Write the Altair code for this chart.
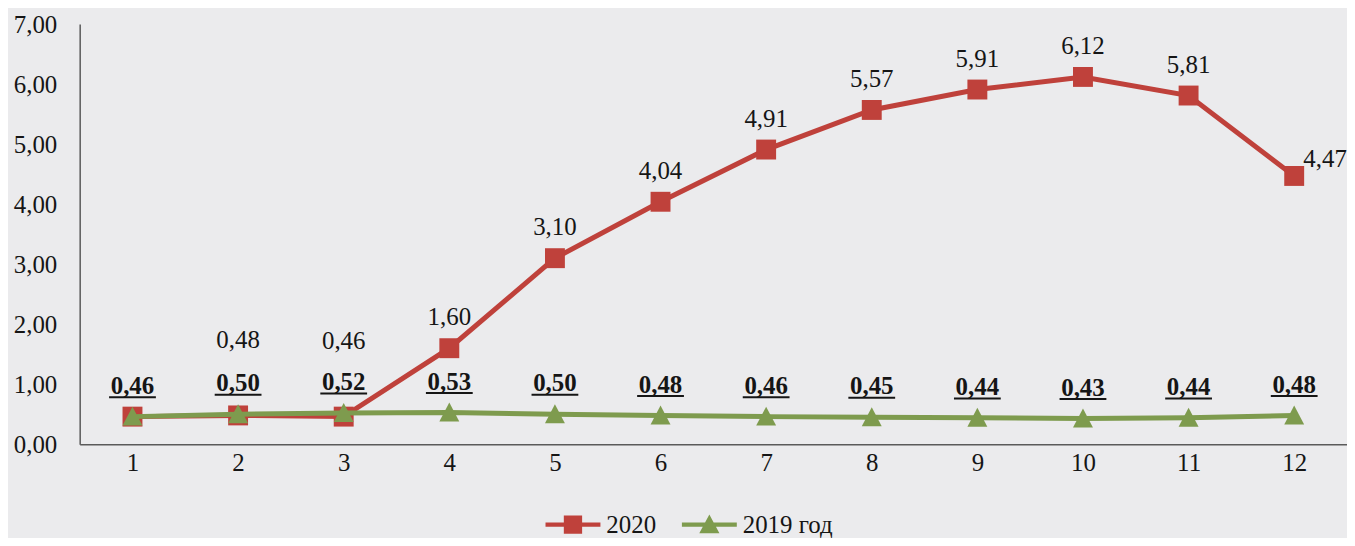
import altair as alt
import pandas as pd

months = [1, 2, 3, 4, 5, 6, 7, 8, 9, 10, 11, 12]
values_2020 = [0.46, 0.48, 0.46, 1.60, 3.10, 4.04, 4.91, 5.57, 5.91, 6.12, 5.81, 4.47]
values_2019 = [0.46, 0.50, 0.52, 0.53, 0.50, 0.48, 0.46, 0.45, 0.44, 0.43, 0.44, 0.48]
series_names = ["2020", "2019 год"]
y_ticks = [0, 1, 2, 3, 4, 5, 6, 7]

RED = "#bf413b"
GREEN = "#7e9b4e"
FONT = "Liberation Serif"
TXT = "#151515"
BG = "#ebebed"


def fmt(v):
    return f"{v:.2f}".replace(".", ",")


rows = []
for m, a, b in zip(months, values_2020, values_2019):
    rows.append({"month": m, "series": series_names[0], "value": a, "label": fmt(a)})
    rows.append({"month": m, "series": series_names[1], "value": b, "label": fmt(b)})
df = pd.DataFrame(rows)

x = alt.X(
    "month:O",
    scale=alt.Scale(type="point", padding=0.5),
    axis=alt.Axis(
        title=None, labelAngle=0, ticks=False, tickSize=0, grid=False,
        labelFont=FONT, labelFontSize=25, labelColor=TXT, labelPadding=6,
        domainColor="#5a5a5a", domainWidth=1.5,
    ),
)
y = alt.Y(
    "value:Q",
    scale=alt.Scale(domain=[0, 7], nice=False, zero=True),
    axis=alt.Axis(
        title=None, values=y_ticks, ticks=False, tickSize=0, grid=False,
        labelFont=FONT, labelFontSize=25, labelColor=TXT, labelPadding=23,
        labelExpr="replace(format(datum.value, '.2f'), '.', ',')",
        domainColor="#5a5a5a", domainWidth=1.5,
    ),
)

base = alt.Chart(df).encode(x=x, y=y)
s20 = base.transform_filter(alt.datum.series == series_names[0])
s19 = base.transform_filter(alt.datum.series == series_names[1])

red_line = s20.mark_line(color=RED, strokeWidth=5)
red_pts = s20.mark_point(shape="square", filled=True, size=400, color=RED, opacity=1)
green_line = s19.mark_line(color=GREEN, strokeWidth=5)
green_pts = s19.mark_point(shape="M0,-1L1,0.9H-1Z", filled=True, size=400, color=GREEN, opacity=1)

legend_paths = [
    "M-3,-0.22H3V0.22H-3Z M-1,-1H1V1H-1Z",
    "M-3,-0.22H3V0.22H-3Z M0,-1.1L1.1,0.95H-1.1Z",
]
leg = dict(
    orient="none", legendX=483, legendY=490, direction="horizontal", title=None,
    labelFont=FONT, labelFontSize=25, labelColor=TXT, symbolSize=338,
    labelOffset=21, columnPadding=25, padding=0, symbolOpacity=1,
    symbolStrokeWidth=0, labelBaseline="middle",
)
legend_layer = base.mark_point(filled=True, opacity=0).encode(
    color=alt.Color("series:N", scale=alt.Scale(domain=series_names, range=[RED, GREEN]),
                    legend=alt.Legend(**leg), sort=series_names),
    shape=alt.Shape("series:N", scale=alt.Scale(domain=series_names, range=legend_paths),
                    legend=alt.Legend(**leg), sort=series_names),
)

txt_style = dict(font=FONT, fontSize=25, color=TXT, baseline="alphabetic", align="center")
red_txt = s20.transform_filter((alt.datum.month >= 4) & (alt.datum.month <= 11)).mark_text(
    dy=-23, **txt_style).encode(text="label:N")
red_txt_low = s20.transform_filter((alt.datum.month >= 2) & (alt.datum.month <= 3)).mark_text(
    dy=-68, **txt_style).encode(text="label:N")
red_txt_end = s20.transform_filter(alt.datum.month == 12).mark_text(
    dx=31, dy=-9, **txt_style).encode(text="label:N")
green_txt = s19.mark_text(dy=-23, fontWeight="bold", **txt_style).encode(text="label:N")
underline = s19.mark_rule(color=TXT, strokeWidth=2, xOffset=-23.5, x2Offset=23.5, yOffset=-19.5).encode(
    x2="month:O")

chart = alt.layer(
    red_line, red_pts, green_line, green_pts, legend_layer,
    red_txt, red_txt_low, red_txt_end, green_txt, underline,
).properties(
    width=1273, height=422, background=BG,
    padding={"left": 72, "top": 15, "right": 0, "bottom": 93},
    autosize=alt.AutoSizeParams(type="none"),
).configure_view(stroke=None)

chart.save("out.html", embed_options={"renderer": "svg", "actions": False})
